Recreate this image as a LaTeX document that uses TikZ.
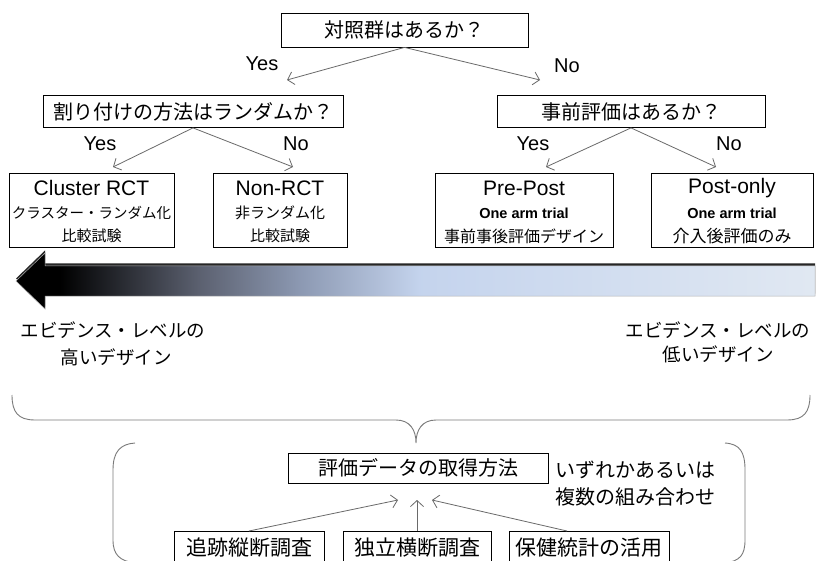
\documentclass[tikz,border=0pt]{standalone}
\usepackage{fontspec}
\setmainfont{Liberation Sans}
\newfontfamily\jp{Noto Sans CJK JP}
\usetikzlibrary{arrows.meta}
\definecolor{arrgray}{HTML}{6A6A6A}
\definecolor{curlgray}{HTML}{7A7A7A}
\pgfdeclarehorizontalshading{evid}{100bp}{rgb(0bp)=(0,0,0); rgb(27.75bp)=(0,0,0); rgb(36.5bp)=(0.36,0.38,0.44); rgb(42.8bp)=(0.55,0.60,0.70); rgb(50.3bp)=(0.77,0.83,0.93); rgb(75bp)=(0.88,0.91,0.95); rgb(100bp)=(0.88,0.91,0.95)}
\tikzset{
  box/.style={draw=black, line width=0.8pt, inner sep=0pt},
  jt/.style={font=\jp\fontsize{20}{24}\selectfont, inner sep=0pt},
  jsm/.style={font=\jp\fontsize{15}{18}\selectfont, inner sep=0pt},
  jev/.style={font=\jp\fontsize{18.5}{22}\selectfont, inner sep=0pt},
  lt/.style={font=\fontsize{20}{24}\selectfont, inner sep=0pt},
  lbig/.style={font=\fontsize{21}{24}\selectfont, inner sep=0pt},
  lbold/.style={font=\bfseries\fontsize{14.5}{18}\selectfont, inner sep=0pt},
  arr/.style={draw=arrgray, line width=0.8pt, -{Straight Barb[length=6pt,width=13pt]}},
  curl/.style={draw=curlgray, line width=0.9pt},
}
\begin{document}
\begin{tikzpicture}[x=1pt,y=-1pt]
\clip (0,0) rectangle (816,561);
\fill[white] (0,0) rectangle (816,561);

% decision boxes
\node[box, jt, minimum width=247pt, minimum height=34pt] (q0) at (404.5,30) {対照群はあるか？};
\node[box, jt, minimum width=300pt, minimum height=32pt] (q1) at (193,111.5) {割り付けの方法はランダムか？};
\node[box, jt, minimum width=268pt, minimum height=32pt] (q2) at (631,111.5) {事前評価はあるか？};

\coordinate (q0y) at (287,80);
\coordinate (q0n) at (540,80);
\draw[arr] (q0.south) -- (q0y);
\draw[arr] (q0.south) -- (q0n);
\node[lt] (ly0) at (262,64) {Yes};
\node[lt] (ln0) at (567,66) {No};

\coordinate (q1y) at (113,167);
\coordinate (q1n) at (293,167);
\draw[arr] (q1.south) -- (q1y);
\draw[arr] (q1.south) -- (q1n);
\node[lt] (ly1) at (100,144) {Yes};
\node[lt] (ln1) at (296,144) {No};

\coordinate (q2y) at (546,167);
\coordinate (q2n) at (716,167);
\draw[arr] (q2.south) -- (q2y);
\draw[arr] (q2.south) -- (q2n);
\node[lt] (ly2) at (533,144) {Yes};
\node[lt] (ln2) at (729,144) {No};

% design boxes
\node[box, minimum width=165pt, minimum height=74pt] (c1) at (91.5,210) {};
\node[box, minimum width=134pt, minimum height=74pt] (c2) at (280,210) {};
\node[box, minimum width=178pt, minimum height=74pt] (c3) at (524,210) {};
\node[box, minimum width=162pt, minimum height=74pt] (c4) at (732,210) {};

\node[lbig] (c1a) at (91.5,188) {Cluster RCT};
\node[jsm, font=\jp\fontsize{14.5}{18}\selectfont] (c1b) at (91.5,213) {クラスター・ランダム化};
\node[jsm] (c1c) at (91.5,236) {比較試験};

\node[lbig] (c2a) at (280,188) {Non-RCT};
\node[jsm] (c2b) at (280,213) {非ランダム化};
\node[jsm] (c2c) at (280,236) {比較試験};

\node[lbig] (c3a) at (524,188) {Pre-Post};
\node[lbold] (c3b) at (524,213) {One arm trial};
\node[jsm, font=\jp\fontsize{16}{18}\selectfont] (c3c) at (524,236) {事前事後評価デザイン};

\node[lbig] (c4a) at (732,188) {Post-only};
\node[lbold] (c4b) at (732,213) {One arm trial};
\node[jsm, font=\jp\fontsize{17}{18}\selectfont] (c4c) at (732,236) {介入後評価のみ};

% evidence arrow
\fill[black!85, yshift=2.5pt] (16,281) -- (45,253) -- (45,266) -- (815,266) -- (815,296) -- (45,296) -- (45,309) -- cycle;
\shade[shading=evid, draw=gray!60, line width=0.5pt] (16,281) -- (45,253) -- (45,266) -- (815,266) -- (815,296) -- (45,296) -- (45,309) -- cycle;

\node[jev] (hi1) at (113,330) {エビデンス・レベルの};
\node[jev] (hi2) at (116,357) {高いデザイン};
\node[jev] (lo1) at (718,330) {エビデンス・レベルの};
\node[jev] (lo2) at (718,354) {低いデザイン};

% brace
\draw[curl] (12,395) .. controls (12,412) and (18,420) .. (35,420) -- (396,420)
  .. controls (410,420) and (416,430) .. (416,443)
  .. controls (416,430) and (422,420) .. (436,420) -- (787,420)
  .. controls (804,420) and (810,412) .. (810,395);

% brackets
\draw[curl] (135,443) .. controls (120,444) and (113,452) .. (113,470) -- (113,540) .. controls (113,555) and (120,561) .. (135,563);
\draw[curl] (725,443) .. controls (740,444) and (745,452) .. (745,470) -- (745,540) .. controls (745,555) and (740,561) .. (725,563);

% data acquisition
\node[box, jt, minimum width=260pt, minimum height=30pt] (ev) at (418,468) {評価データの取得方法};
\node[jt, anchor=west] (or1) at (555,470) {いずれかあるいは};
\node[jt, anchor=west] (or2) at (555,497) {複数の組み合わせ};

\node[box, minimum width=150pt, minimum height=44pt, anchor=north] (b1) at (249,531) {};
\node[box, minimum width=148pt, minimum height=44pt, anchor=north] (b2) at (417,531) {};
\node[box, minimum width=160pt, minimum height=44pt, anchor=north] (b3) at (589,531) {};
\node[jt, font=\jp\fontsize{21}{24}\selectfont] (b1t) at (249,548) {追跡縦断調査};
\node[jt, font=\jp\fontsize{21}{24}\selectfont] (b2t) at (417,548) {独立横断調査};
\node[jt, font=\jp\fontsize{21}{24}\selectfont] (b3t) at (589,548) {保健統計の活用};

\coordinate (e1) at (398,500);
\coordinate (e2) at (417,500);
\coordinate (e3) at (432,500);
\draw[arr] (b1.north) -- (e1);
\draw[arr] (b2.north -| e2) -- (e2);
\draw[arr] ([xshift=-22pt]b3.north) -- (e3);
\end{tikzpicture}
\end{document}
